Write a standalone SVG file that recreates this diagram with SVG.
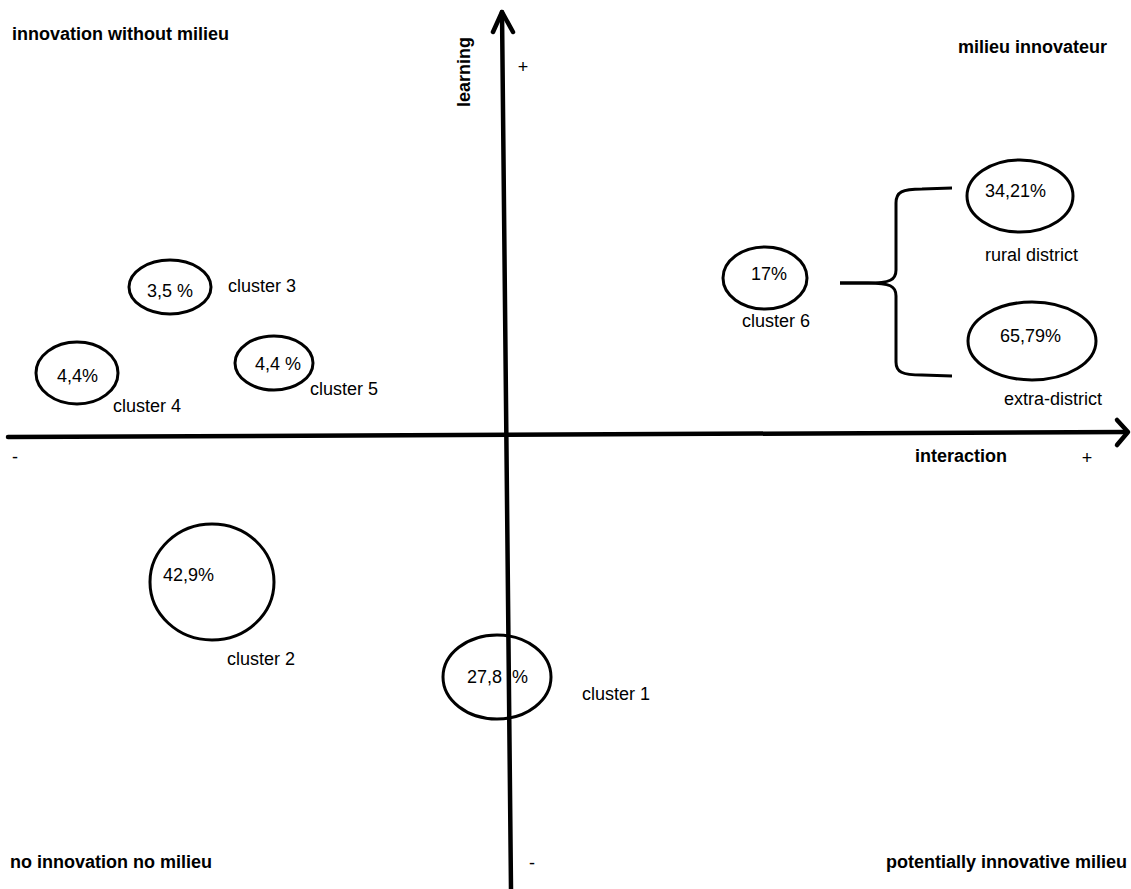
<svg xmlns="http://www.w3.org/2000/svg" width="1131" height="889" viewBox="0 0 1131 889">
<style>
  .t { font-family: "Liberation Sans", Arial, sans-serif; font-size: 18px; fill: #000; }
  .b { font-family: "Liberation Sans", Arial, sans-serif; font-size: 18px; font-weight: bold; fill: #000; }
  .node { fill: none; stroke: #000; stroke-width: 3; }
  .axis { fill: none; stroke: #000; stroke-width: 4.5; stroke-linecap: round; stroke-linejoin: round; }
  .brace { fill: none; stroke: #000; stroke-width: 3; }
</style>
<rect width="1131" height="889" fill="#fff"/>

<g id="connectors">
  <path class="axis" d="M511,889 L502,12"/>
  <path class="axis" d="M493,32 L502,12 L513,32"/>
  <path class="axis" d="M8,437 L1127,432"/>
  <path class="axis" d="M1117,420 L1128,432 L1117,445"/>
  <path class="brace" d="M840,283 L868,283 C890,283 896,280 896,270 L896,203 C896,192 902,189 922,189 L952,188"/>
  <path class="brace" d="M840,283 L868,283 C890,283 896,286 896,296 L896,362 C896,372 902,375 922,375 L952,376"/>
</g>

<g id="axis-labels">
  <text class="b" x="12" y="40">innovation without milieu</text>
  <text class="b" x="958" y="53">milieu innovateur</text>
  <text class="b" x="10" y="868">no innovation no milieu</text>
  <text class="b" x="886" y="868">potentially innovative milieu</text>
  <text class="b" transform="translate(470,72) rotate(-90)" text-anchor="middle">learning</text>
  <text class="b" x="915" y="462">interaction</text>
  <text class="t" x="523" y="73" text-anchor="middle">+</text>
  <text class="t" x="1087" y="464" text-anchor="middle">+</text>
  <text class="t" x="15" y="463" text-anchor="middle">-</text>
  <text class="t" x="532" y="869" text-anchor="middle">-</text>
</g>

<g id="cluster3">
  <ellipse class="node" cx="170" cy="287" rx="41" ry="27"/>
  <text class="t" x="147" y="297">3,5 %</text>
  <text class="t" x="228" y="292">cluster 3</text>
</g>
<g id="cluster4">
  <ellipse class="node" cx="77" cy="373" rx="41" ry="31"/>
  <text class="t" x="57" y="382">4,4%</text>
  <text class="t" x="113" y="412">cluster 4</text>
</g>
<g id="cluster5">
  <ellipse class="node" cx="274" cy="363" rx="39" ry="27"/>
  <text class="t" x="255" y="370">4,4 %</text>
  <text class="t" x="310" y="395">cluster 5</text>
</g>
<g id="cluster2">
  <ellipse class="node" cx="212" cy="582" rx="62" ry="58"/>
  <text class="t" x="163" y="581">42,9%</text>
  <text class="t" x="227" y="665">cluster 2</text>
</g>
<g id="cluster1">
  <ellipse class="node" cx="497" cy="677" rx="54" ry="42"/>
  <text class="t" x="467" y="683">27,8 <tspan x="512">%</tspan></text>
  <text class="t" x="582" y="700">cluster 1</text>
</g>
<g id="cluster6">
  <ellipse class="node" cx="765" cy="278" rx="42" ry="31"/>
  <text class="t" x="751" y="280">17%</text>
  <text class="t" x="742" y="327">cluster 6</text>
</g>
<g id="rural-district">
  <ellipse class="node" cx="1020" cy="196" rx="53" ry="36"/>
  <text class="t" x="985" y="197">34,21%</text>
  <text class="t" x="985" y="261">rural district</text>
</g>
<g id="extra-district">
  <ellipse class="node" cx="1032" cy="341" rx="64" ry="39"/>
  <text class="t" x="1000" y="342">65,79%</text>
  <text class="t" x="1004" y="405">extra-district</text>
</g>
</svg>
